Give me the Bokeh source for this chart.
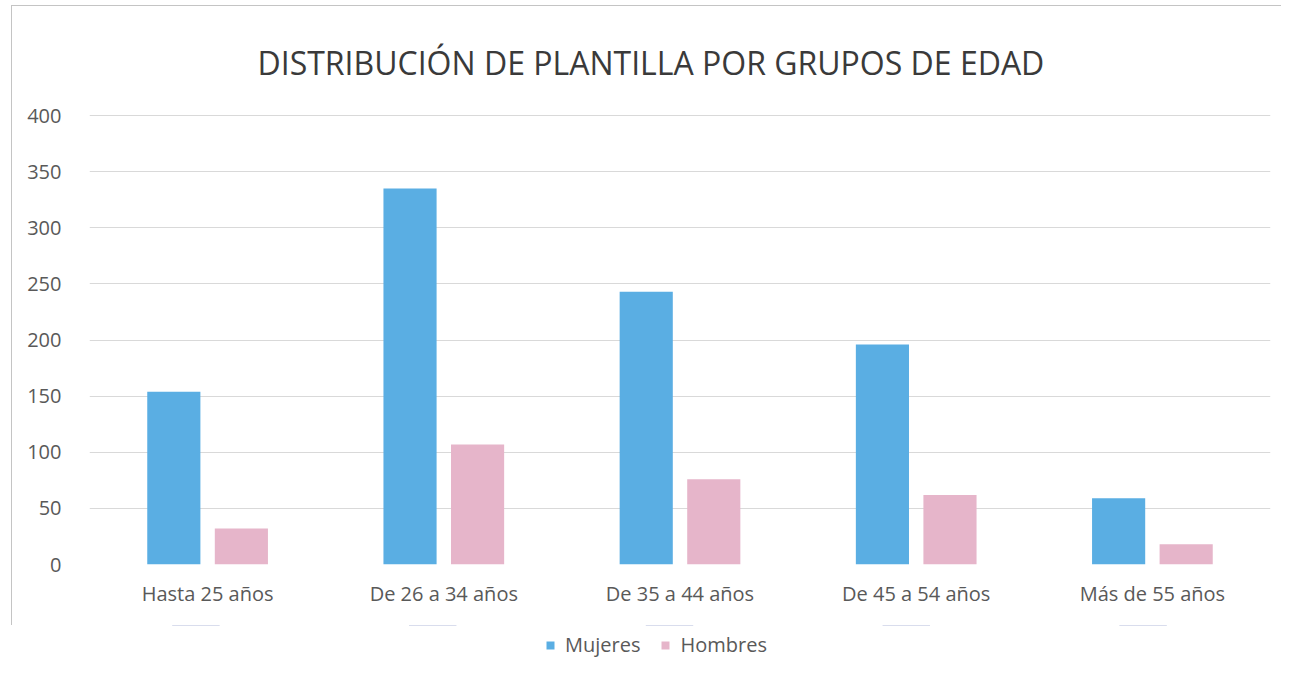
from bokeh.plotting import figure
from bokeh.models import FactorRange, Legend, LegendItem, Title, Range1d
from bokeh.layouts import column
from bokeh.transform import dodge
from bokeh.embed import file_html
from bokeh.resources import INLINE
from bokeh.models import ColumnDataSource

categories = ["Hasta 25 años", "De 26 a 34 años", "De 35 a 44 años", "De 45 a 54 años", "Más de 55 años"]
mujeres = [154, 335, 243, 196, 59]
hombres = [32, 107, 76, 62, 18]
series_names = ["Mujeres", "Hombres"]
y_ticks = [0, 50, 100, 150, 200, 250, 300, 350, 400]

FONT = "Open Sans"
GRAY = "#595959"
BLUE = "#5aaee3"
PINK = "#e6b5ca"

src = ColumnDataSource(dict(cat=categories, m=mujeres, h=hombres))

p = figure(frame_width=1180, frame_height=449, x_range=FactorRange(*categories),
           y_range=Range1d(0, 401), output_backend="svg", toolbar_location=None,
           min_border_left=77, min_border_right=12, min_border_top=108, min_border_bottom=62)
p.styles = {"margin-left": "11px", "margin-top": "5px",
            "border-left": "1px solid #c4c4c4", "border-top": "1px solid #c4c4c4"}
p.title = None
t = Title(text="DISTRIBUCIÓN DE PLANTILLA POR GRUPOS DE EDAD", align="left",
          text_font=FONT, text_font_size="32px", text_color="#3a3a3a", text_font_style="normal",
          standoff=62, offset=168)
p.add_layout(t, "above")

p.vbar(x=dodge("cat", -0.143, range=p.x_range), top="m", width=0.225, source=src,
       fill_color=BLUE, line_color=None)
p.vbar(x=dodge("cat", 0.143, range=p.x_range), top="h", width=0.225, source=src,
       fill_color=PINK, line_color=None)

p.yaxis.ticker = y_ticks
p.xgrid.grid_line_color = None
p.ygrid.grid_line_color = "#d9d9d9"
p.ygrid.grid_line_width = 1
p.outline_line_color = None
for ax in (p.xaxis, p.yaxis):
    ax.axis_line_color = None
    ax.major_tick_line_color = None
    ax.minor_tick_line_color = None
    ax.major_label_text_font = FONT
    ax.major_label_text_font_size = "20px"
    ax.major_label_text_color = GRAY
p.xaxis.major_label_standoff = 9
p.yaxis.major_label_standoff = 22
p.background_fill_color = "white"
p.border_fill_color = "white"

# legend strip below the chart (its bars lie outside its visible range; only the legend shows)
lg = figure(width=1273, height=40, output_backend="svg", toolbar_location=None,
            x_range=FactorRange(*categories), y_range=Range1d(-2, -1),
            x_axis_type=None, y_axis_type=None, min_border=0)
lg.outline_line_color = None
lg.border_fill_color = "white"
lg.background_fill_color = "white"
lr1 = lg.vbar(x="cat", top="m", width=0.2, source=src, fill_color=BLUE, line_color=None)
lr2 = lg.vbar(x="cat", top="h", width=0.2, source=src, fill_color=PINK, line_color=None)
legend = Legend(items=[LegendItem(label=series_names[0], renderers=[lr1], index=0),
                       LegendItem(label=series_names[1], renderers=[lr2], index=0)],
                orientation="horizontal", location=(468, 7),
                label_text_font=FONT, label_text_font_size="20px", label_text_color=GRAY,
                glyph_width=10, glyph_height=10, spacing=20, label_standoff=10,
                border_line_color=None, background_fill_alpha=0, margin=0, padding=0)
lg.add_layout(legend, "center")

layout = column(p, lg, spacing=0)
open("out.html", "w").write(file_html(layout, INLINE))
